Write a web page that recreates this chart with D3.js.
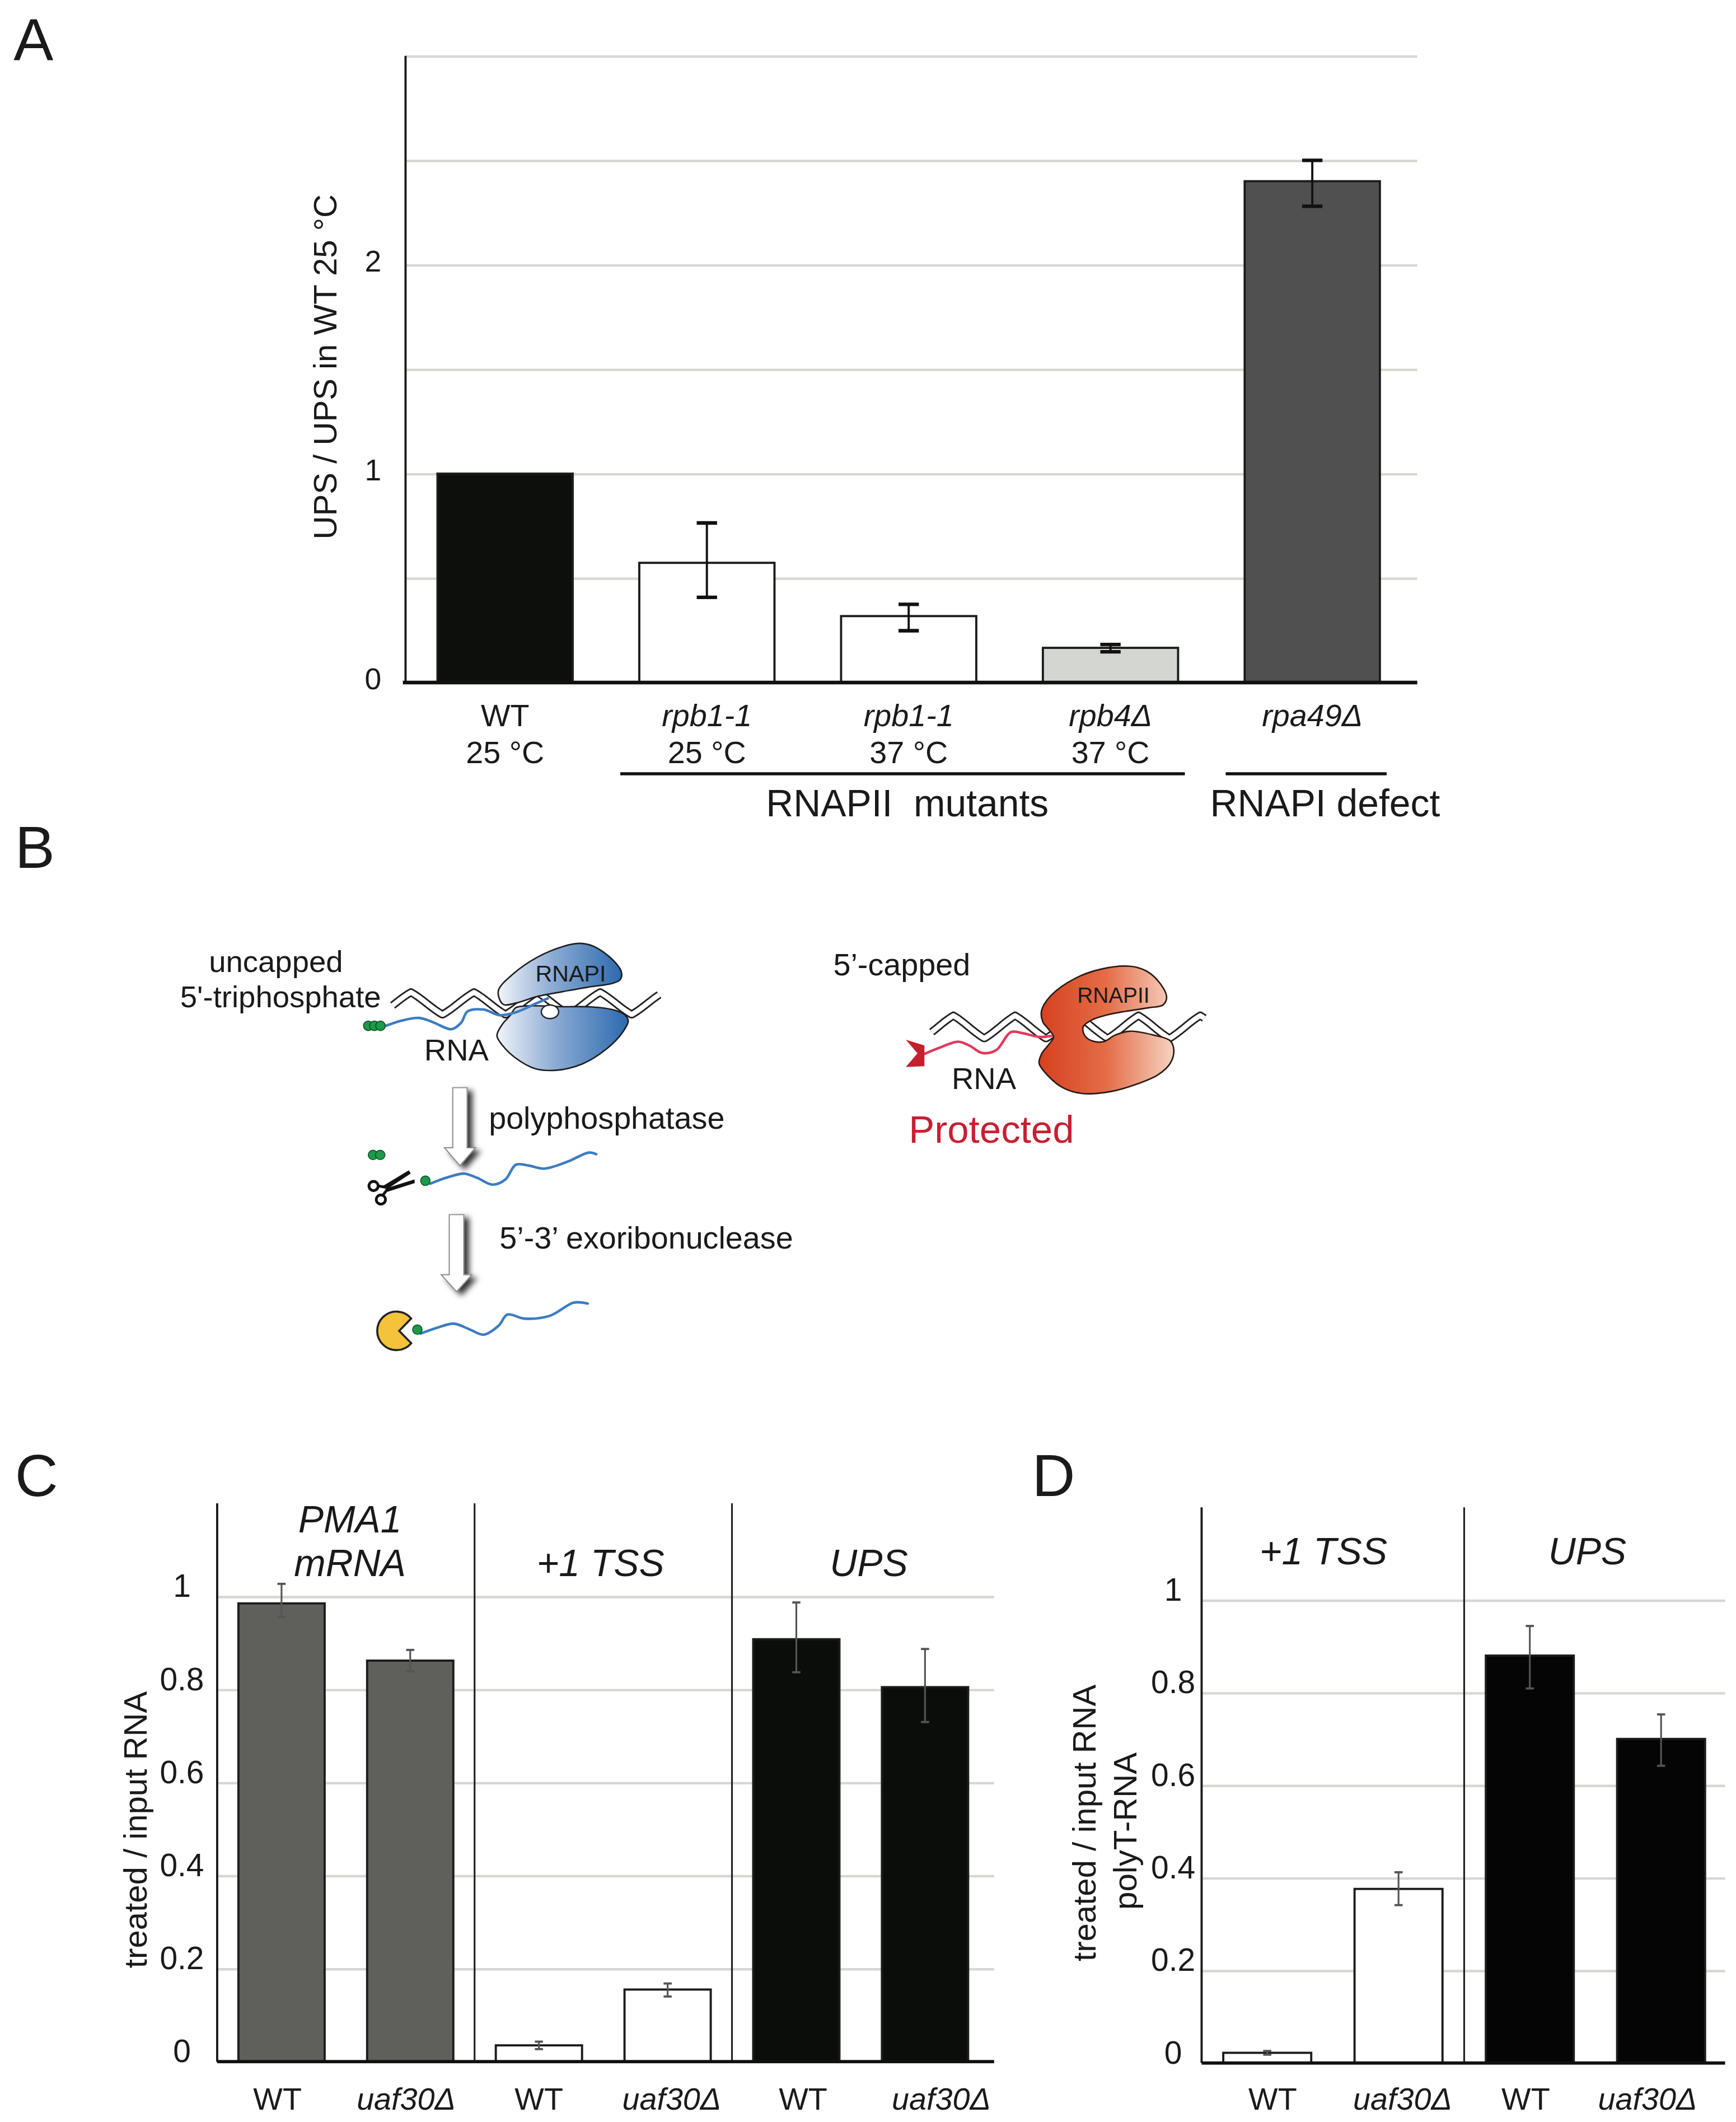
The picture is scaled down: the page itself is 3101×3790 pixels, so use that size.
<!DOCTYPE html>
<html><head><meta charset="utf-8">
<script src="https://cdn.jsdelivr.net/npm/d3@7"></script>
<style>
html,body{margin:0;padding:0;background:#fff;}
svg{display:block;}
</style></head><body>
<svg id="fig"></svg>
<script>
// ---------------- DATA ----------------
// Panel A
const catsA = ["WT 25 °C", "rpb1-1 25 °C", "rpb1-1 37 °C", "rpb4Δ 37 °C", "rpa49Δ"];
const labelTopA = ["WT", "rpb1-1", "rpb1-1", "rpb4Δ", "rpa49Δ"];
const labelBottomA = ["25 °C", "25 °C", "37 °C", "37 °C", ""];
const valuesA = [1.00, 0.573, 0.318, 0.166, 2.40];
const errLowA = [null, 0.408, 0.248, 0.147, 2.28];
const errHighA = [null, 0.764, 0.374, 0.182, 2.50];
const gridA = [0, 0.5, 1, 1.5, 2, 2.5, 3];
const tickLabelsA = [0, 1, 2];
const groupsA = [
  {label: "RNAPII  mutants", from: 1, to: 3},
  {label: "RNAPI defect", from: 4, to: 4}
];
const titleA = "UPS / UPS in WT 25 °C";

// Panel C
const catsC = ["PMA1 WT", "PMA1 uaf30Δ", "+1 TSS WT", "+1 TSS uaf30Δ", "UPS WT", "UPS uaf30Δ"];
const strainC = ["WT", "uaf30Δ", "WT", "uaf30Δ", "WT", "uaf30Δ"];
const valuesC = [0.985, 0.862, 0.035, 0.155, 0.908, 0.805];
const errLowC = [0.956, 0.839, 0.027, 0.140, 0.837, 0.730];
const errHighC = [1.027, 0.885, 0.043, 0.168, 0.987, 0.887];
const groupsC = [
  {lines: ["PMA1", "mRNA"], from: 0, to: 1},
  {lines: ["+1 TSS"], from: 2, to: 3},
  {lines: ["UPS"], from: 4, to: 5}
];
const gridCD = [0, 0.2, 0.4, 0.6, 0.8, 1];
const titleC = ["treated / input RNA"];

// Panel D
const catsD = ["+1 TSS WT", "+1 TSS uaf30Δ", "UPS WT", "UPS uaf30Δ"];
const strainD = ["WT", "uaf30Δ", "WT", "uaf30Δ"];
const valuesD = [0.022, 0.376, 0.880, 0.700];
const errLowD = [0.018, 0.341, 0.809, 0.642];
const errHighD = [0.026, 0.412, 0.944, 0.753];
const groupsD = [
  {lines: ["+1 TSS"], from: 0, to: 1},
  {lines: ["UPS"], from: 2, to: 3}
];
const titleD = ["treated / input RNA", "polyT-RNA"];

// ---------------- STYLES ----------------
const FONT = '"Liberation Sans", Arial, Helvetica, sans-serif';
const fillA = {"WT 25 °C": "#0d0f0c", "rpb1-1 25 °C": "#ffffff", "rpb1-1 37 °C": "#ffffff", "rpb4Δ 37 °C": "#d4d6d2", "rpa49Δ": "#505050"};
const fillC = {"PMA1 WT": "#5f605c", "PMA1 uaf30Δ": "#5f605c", "+1 TSS WT": "#ffffff", "+1 TSS uaf30Δ": "#ffffff", "UPS WT": "#0b0d0a", "UPS uaf30Δ": "#0b0d0a"};
const fillD = {"+1 TSS WT": "#ffffff", "+1 TSS uaf30Δ": "#ffffff", "UPS WT": "#050505", "UPS uaf30Δ": "#050505"};

const W = 1280, H = 1564.5;
const svg = d3.select("#fig").attr("width", 3101).attr("height", 3790)
  .attr("viewBox", `0 0 ${W} ${H}`);
svg.append("rect").attr("width", W).attr("height", H).attr("fill", "#fff");

const defs = svg.append("defs");
function grad(id, stops) {
  const g = defs.append("linearGradient").attr("id", id)
    .attr("x1", "0").attr("y1", "0").attr("x2", "1").attr("y2", "0");
  stops.forEach(s => g.append("stop").attr("offset", s[0]).attr("stop-color", s[1]));
}
grad("blueG", [[0, "#f1f4f9"], [0.45, "#8aaad3"], [1, "#2c6aae"]]);
grad("redG", [[0, "#d6401e"], [0.5, "#e46d48"], [1, "#f6d3c2"]]);
const flt = defs.append("filter").attr("id", "shadow")
  .attr("x", "-60%").attr("y", "-20%").attr("width", "220%").attr("height", "150%");
flt.append("feDropShadow").attr("dx", 3.5).attr("dy", 2.5).attr("stdDeviation", 2.2)
  .attr("flood-color", "#000").attr("flood-opacity", 0.8);

function txt(g, x, y, s, size, opt = {}) {
  const t = g.append("text").attr("x", x).attr("y", y).text(s)
    .attr("font-family", FONT).attr("font-size", size)
    .attr("fill", opt.fill || "#1a1a1a")
    .attr("text-anchor", opt.anchor || "start")
    .style("white-space", "pre");
  if (opt.italic) t.attr("font-style", "italic");
  if (opt.rotate) t.attr("transform", `rotate(-90,${x},${y})`);
  return t;
}

// ---------------- GENERIC BAR PANEL ----------------
function barPanel(o) {
  const g = svg.append("g");
  const x = d3.scaleBand().domain(o.cats).range(o.xRange)
    .paddingInner(o.padIn).paddingOuter(o.padIn / 2);
  const y = d3.scaleLinear().domain(o.yDomain).range(o.yRange);
  const bw = x.bandwidth();
  const ax = d3.axisLeft(y).tickValues(o.grid)
    .tickSize(-(o.gridEnd - o.xAxis)).tickPadding(0)
    .tickFormat(o.tickLabel);
  const ga = g.append("g").attr("transform", `translate(${o.xAxis},0)`).call(ax);
  ga.select(".domain").remove();
  ga.selectAll(".tick line").attr("stroke", "#d6d7d3").attr("stroke-width", o.gridWidth);
  ga.selectAll(".tick text").attr("x", -o.tickDx).attr("dy", o.tickDy)
    .attr("text-anchor", "middle").attr("font-size", o.tickSize)
    .attr("font-family", FONT).attr("fill", "#1a1a1a");
  (o.separators || []).forEach(i => {
    const sx = x(o.cats[i]) - (x.step() - bw) / 2;
    g.append("line").attr("x1", sx).attr("x2", sx)
      .attr("y1", y(o.yDomain[1])).attr("y2", y(0))
      .attr("stroke", "#222").attr("stroke-width", 1.3);
  });
  g.append("line").attr("x1", o.xAxis).attr("x2", o.xAxis)
    .attr("y1", y(o.yDomain[1])).attr("y2", y(0))
    .attr("stroke", "#1a1a1a").attr("stroke-width", 1.6);
  g.selectAll("rect.bar").data(o.cats).join("rect").attr("class", "bar")
    .attr("x", d => x(d)).attr("width", bw)
    .attr("y", (d, i) => y(o.values[i]))
    .attr("height", (d, i) => y(0) - y(o.values[i]))
    .attr("fill", d => o.fill[d]).attr("stroke", "#1c1c1c").attr("stroke-width", 1.6);
  o.cats.forEach((d, i) => {
    if (o.lo[i] == null) return;
    const cx = x(d) + bw / 2;
    g.append("line").attr("x1", cx).attr("x2", cx)
      .attr("y1", y(o.lo[i])).attr("y2", y(o.hi[i]))
      .attr("stroke", o.errColor).attr("stroke-width", o.errWidth);
    [o.lo[i], o.hi[i]].forEach(v => {
      g.append("line").attr("x1", cx - o.cap).attr("x2", cx + o.cap)
        .attr("y1", y(v)).attr("y2", y(v))
        .attr("stroke", o.errColor).attr("stroke-width", o.capWidth);
    });
  });
  g.append("line").attr("x1", o.axisX[0]).attr("x2", o.axisX[1])
    .attr("y1", y(0)).attr("y2", y(0))
    .attr("stroke", "#111").attr("stroke-width", o.axisWidth);
  return {g, x, y, bw};
}

// ---------------- PANEL A ----------------
const A = barPanel({
  cats: catsA, values: valuesA, lo: errLowA, hi: errHighA, fill: fillA,
  xRange: [298, 1042], padIn: 0.33, yDomain: [0, 3], yRange: [503.2, 41.2],
  grid: gridA, tickLabel: d => tickLabelsA.includes(d) ? String(d) : "",
  xAxis: 299, gridEnd: 1045, gridWidth: 1.8, tickDx: 24, tickDy: "0.2em", tickSize: 22,
  errColor: "#111", errWidth: 1.6, cap: 7.5, capWidth: 2.6,
  axisX: [297, 1045], axisWidth: 2.6
});
catsA.forEach((d, i) => {
  const cx = A.x(d) + A.bw / 2;
  txt(A.g, cx, 535.5, labelTopA[i], 23, {anchor: "middle", italic: i > 0});
  if (labelBottomA[i]) txt(A.g, cx, 562.5, labelBottomA[i], 23, {anchor: "middle"});
});
const groupLabelXA = [669, 977];
groupsA.forEach((gr, k) => {
  const x1 = A.x(catsA[gr.from]) - 14, x2 = A.x(catsA[gr.to]) + A.bw + 5;
  A.g.append("line").attr("x1", x1).attr("x2", x2).attr("y1", 570.5).attr("y2", 570.5)
    .attr("stroke", "#111").attr("stroke-width", 2.2);
  txt(A.g, groupLabelXA[k], 602, gr.label, 28, {anchor: "middle"});
});
txt(A.g, 248, 270.5, titleA, 24, {anchor: "middle", rotate: true});

// ---------------- PANEL C ----------------
const fmtCD = d => d === 0 ? "0" : d === 1 ? "1" : d3.format(".1f")(d);
const C = barPanel({
  cats: catsC, values: valuesC, lo: errLowC, hi: errHighC, fill: fillC,
  xRange: [160.1, 729.5], padIn: 0.33, yDomain: [0, 1.2], yRange: [1520, 1108.4],
  grid: gridCD, tickLabel: fmtCD,
  xAxis: 160.1, gridEnd: 733, gridWidth: 1.8, tickDx: 26, tickDy: "0em", tickSize: 23.5,
  errColor: "#555", errWidth: 1.3, cap: 3, capWidth: 1.6,
  axisX: [160, 733], axisWidth: 2.4, separators: [2, 4]
});
const labelShiftC = [-3, -3, 0, 3, 5, 12];
catsC.forEach((d, i) => {
  txt(C.g, C.x(d) + C.bw / 2 + labelShiftC[i], 1555.5, strainC[i], 23, {anchor: "middle", italic: strainC[i] !== "WT"});
});
const headShiftC = [3, -2, 6];
groupsC.forEach((gr, k) => {
  const cx = (C.x(catsC[gr.from]) + C.x(catsC[gr.to]) + C.bw) / 2 + headShiftC[k];
  gr.lines.forEach((l, j) => {
    txt(C.g, cx, 1162 - (gr.lines.length - 1 - j) * 32, l, 28, {anchor: "middle", italic: true});
  });
});
txt(C.g, 108, 1349, titleC[0], 24, {anchor: "middle", rotate: true});

// ---------------- PANEL D ----------------
const D = barPanel({
  cats: catsD, values: valuesD, lo: errLowD, hi: errHighD, fill: fillD,
  xRange: [886, 1273.2], padIn: 0.33, yDomain: [0, 1.2], yRange: [1521, 1111.4],
  grid: gridCD, tickLabel: fmtCD,
  xAxis: 886, gridEnd: 1272, gridWidth: 1.8, tickDx: 21, tickDy: "0em", tickSize: 23.5,
  errColor: "#555", errWidth: 1.3, cap: 3, capWidth: 1.6,
  axisX: [886, 1272], axisWidth: 2.4, separators: [2]
});
const labelShiftD = [4, 3, -3, -10];
catsD.forEach((d, i) => {
  txt(D.g, D.x(d) + D.bw / 2 + labelShiftD[i], 1555.5, strainD[i], 23, {anchor: "middle", italic: strainD[i] !== "WT"});
});
const headShiftD = [-7, -6];
groupsD.forEach((gr, k) => {
  const cx = (D.x(catsD[gr.from]) + D.x(catsD[gr.to]) + D.bw) / 2 + headShiftD[k];
  gr.lines.forEach(l => txt(D.g, cx, 1153.5, l, 28, {anchor: "middle", italic: true}));
});
txt(D.g, 808, 1344, titleD[0], 24, {anchor: "middle", rotate: true});
txt(D.g, 838, 1350, titleD[1], 24, {anchor: "middle", rotate: true});

// ---------------- PANEL LETTERS ----------------
txt(svg, 10, 44, "A", 44);
txt(svg, 11, 640, "B", 44);
txt(svg, 11, 1103, "C", 44);
txt(svg, 761, 1103, "D", 44);

// ---------------- PANEL B (schematic) ----------------
const gB = svg.append("g");
const smooth = d3.line().curve(d3.curveCatmullRom.alpha(0.5));
const closed = d3.line().curve(d3.curveCatmullRomClosed.alpha(0.5));

function helix(x0, x1, yc, amp, period, peak0) {
  const pts = [];
  for (let xx = x0; xx <= x1 + 0.01; xx += 0.5) {
    const t = (xx - peak0) / period * 2 * Math.PI;
    const tri = (2 / Math.PI) * Math.asin(Math.cos(t));
    pts.push([xx, yc - amp * (0.8 * tri + 0.2 * Math.cos(t))]);
  }
  return pts;
}
function ribbon(p) {
  gB.append("path").attr("d", d3.line()(p)).attr("fill", "none")
    .attr("stroke", "#222").attr("stroke-width", 6).attr("stroke-linejoin", "round");
  gB.append("path").attr("d", d3.line()(p)).attr("fill", "none")
    .attr("stroke", "#fff").attr("stroke-width", 3.6).attr("stroke-linejoin", "round");
}
function rna(pts, color) {
  gB.append("path").attr("d", smooth(pts)).attr("fill", "none")
    .attr("stroke", color).attr("stroke-width", 1.9).attr("stroke-linecap", "round");
}
function dot(x, y) {
  gB.append("circle").attr("cx", x).attr("cy", y).attr("r", 3.5)
    .attr("fill", "#1d9a4a").attr("stroke", "#0c5426").attr("stroke-width", 0.7);
}
function arrow(xc, yTop, yNeck, yTip, sh, hh) {
  const p = [[xc - sh, yTop], [xc + sh, yTop], [xc + sh, yNeck], [xc + hh, yNeck],
             [xc, yTip], [xc - hh, yNeck], [xc - sh, yNeck]];
  gB.append("path").attr("d", d3.line()(p) + "Z").attr("fill", "#fff")
    .attr("stroke", "#8c8c8c").attr("stroke-width", 0.8).attr("filter", "url(#shadow)");
}

// RNAPI (blue) complex
ribbon(helix(289.5, 486, 739.8, 8.2, 46.5, 303));
const blueUpper = [[367.4,730.6],[378.2,718.2],[396,705.8],[415.8,697.6],[427.6,695.5],[437.5,697.6],
  [451.3,707.2],[458.2,716.8],[457.2,722.3],[451.3,725.1],[433.5,727.8],[413.8,731.3],[396,734.7],
  [380.2,739.6],[371,740.5]];
const blueLower = [[380.2,743],[376.3,748.5],[370.3,755.3],[366.4,763.6],[370.3,770.5],[380.2,780.1],
  [394,787.7],[409.8,789.1],[429.6,784.3],[447.4,773.2],[459.2,760.9],[463.2,752.6],[460.2,747.8],
  [451.3,744.3],[435.5,742.3],[415,742.2],[398,741.6],[386,741.8]];
gB.append("path").attr("d", closed(blueLower)).attr("fill", "url(#blueG)")
  .attr("stroke", "#1e1e1e").attr("stroke-width", 1.1);
gB.append("ellipse").attr("cx", 405.5).attr("cy", 746).attr("rx", 6.4).attr("ry", 5)
  .attr("fill", "#fff").attr("stroke", "#222").attr("stroke-width", 1);
gB.append("path").attr("d", closed(blueUpper)).attr("fill", "url(#blueG)")
  .attr("stroke", "#1e1e1e").attr("stroke-width", 1.1);
rna([[283.4,756.7],[296,752.5],[309.1,750.5],[320,754],[332.8,758.8],[340,754],[344.7,745.7],
  [356.5,744.3],[368.4,748.5],[380.2,746.4],[396,739.5],[403.9,736.1]], "#3c7cc2");
[271.5, 276, 280.5].forEach(xx => dot(xx, 756.3));
txt(gB, 394.8, 723.6, "RNAPI", 17);
txt(gB, 154, 716.5, "uncapped", 22.5);
txt(gB, 132.8, 742.5, "5'-triphosphate", 22.5);
txt(gB, 312.8, 781.8, "RNA", 22.5);

// step 1: polyphosphatase
arrow(339.1, 801.9, 846.2, 859.4, 5.3, 11.4);
txt(gB, 360.4, 832.1, "polyphosphatase", 23);
dot(275, 851.5); dot(280.3, 851.5);
// scissors
gB.append("path").attr("d", "M282.6,874.2 L301.4,862.8 L302.8,865.2 L285.6,876.6 Z").attr("fill", "#111");
gB.append("path").attr("d", "M283.8,876.4 L305.6,869.6 L305.8,872.2 L285.8,878.6 Z").attr("fill", "#111");
gB.append("path").attr("d", "M278.8,874.4 L284.5,875.4 M282.2,881.2 L285.4,877.2")
  .attr("stroke", "#111").attr("stroke-width", 2).attr("fill", "none");
gB.append("circle").attr("cx", 275.4).attr("cy", 874.4).attr("r", 3.4)
  .attr("fill", "#fff").attr("stroke", "#111").attr("stroke-width", 2);
gB.append("circle").attr("cx", 280.8).attr("cy", 884.4).attr("r", 3.4)
  .attr("fill", "#fff").attr("stroke", "#111").attr("stroke-width", 2);
rna([[317.2,872.7],[330,868],[342.5,865.3],[352,868.5],[363,873.4],[372.5,869.7],[380.4,858.7],
  [389.9,859.4],[401,861.6],[418.3,856.5],[434.1,849.8],[439.6,850.9]], "#3c7cc2");
dot(313.6, 870.5);

// step 2: exoribonuclease
arrow(336.6, 895.5, 939.8, 952.3, 5.35, 11.3);
txt(gB, 368.3, 920.7, "5’-3’ exoribonuclease", 23);
{
  const cx = 292.3, cy = 981.2, r = 14.2, a = 40 * Math.PI / 180;
  const p = `M${cx + 2},${cy} L${cx + r * Math.cos(a)},${cy - r * Math.sin(a)} ` +
    `A${r},${r} 0 1 0 ${cx + r * Math.cos(a)},${cy + r * Math.sin(a)} Z`;
  gB.append("path").attr("d", p).attr("fill", "#f5c23b").attr("stroke", "#222").attr("stroke-width", 1.5);
}
rna([[310.1,983.2],[322,979],[334.6,975.9],[346,980],[356.7,984],[367.7,977.3],[374.1,969.2],
  [386.7,972.2],[405.7,970],[423,960.4],[433.3,961.1]], "#3c7cc2");
dot(307.7, 980.3);

// RNAPII (red) complex
ribbon(helix(687, 888, 757.2, 8.4, 45.5, 703));
rna([[681.6,777],[694,772],[706.5,768],[715,771],[724.1,776.3],[734.6,774.2],[745.2,761],
  [754,761.7],[766.2,764.5],[775,763.8]], "#e03a5c");
gB.append("path").attr("d", d3.line()([[667.9,766.6],[681.6,770.8],[681.6,786.1],[667.9,786.7],[676.5,776.6]]) + "Z")
  .attr("fill", "#c5202e");
const redPol = [[768,745],[775,733.9],[792.6,721.4],[811.9,714.5],[833,712.4],[845.3,715.9],[855.8,725.6],
  [860.2,735.3],[857.5,740.9],[847,743],[829.4,745.7],[815.4,748.5],[804.9,752],[798.7,756.9],
  [799.6,763.1],[804.9,767.3],[813.6,768],[822.4,763.1],[833,760.3],[850.5,763.1],[862.8,767.3],
  [865.5,774.2],[862.8,784],[854,792.3],[838.2,799.3],[818.9,804.8],[797.8,806.2],[783.8,802],
  [773.3,793.7],[766.2,784],[768,777],[773.3,770.1],[776.8,764.5],[773.3,759],[768.9,753.4]];
gB.append("path").attr("d", closed(redPol)).attr("fill", "url(#redG)")
  .attr("stroke", "#2a1a16").attr("stroke-width", 1.1);
txt(gB, 794.3, 739.5, "RNAPII", 16);
txt(gB, 614.4, 719.1, "5’-capped", 23);
txt(gB, 701.7, 803, "RNA", 22.5);
txt(gB, 670, 842.7, "Protected", 28.5, {fill: "#c62032"});
</script>
</body></html>
